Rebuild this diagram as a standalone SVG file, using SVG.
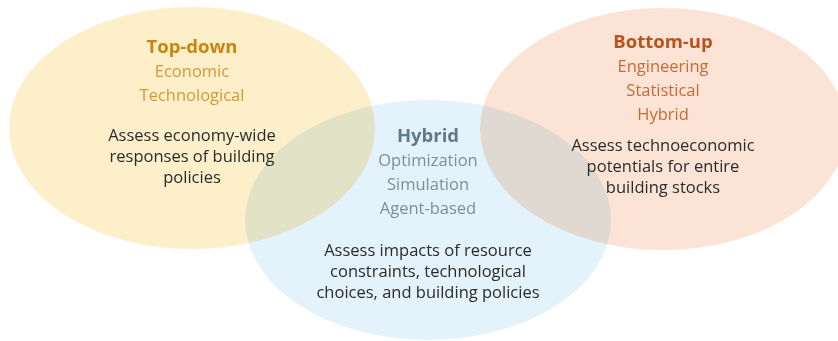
<svg xmlns="http://www.w3.org/2000/svg" width="838" height="341" viewBox="0 0 838 341">
<style>
.e{mix-blend-mode:multiply}
text{font-family:"Open Sans","Liberation Sans",sans-serif;text-anchor:middle;font-size:16.5px}
.h{font-weight:bold;font-size:18.5px}
.b{fill:#2b2b2b}
.td{fill:#c8860f}.tds{fill:#d39a35}
.bu{fill:#b9531b}.bus{fill:#c86a33}
.hy{fill:#5f788b}.hys{fill:#7a8e9c}
</style>
<rect width="838" height="341" fill="#ffffff"/>
<g style="isolation:isolate">
<g id="top-down-shape"><ellipse class="e" cx="192" cy="128" rx="183" ry="121" fill="#fdefc9"/></g>
<g id="bottom-up-shape"><ellipse class="e" cx="663" cy="129" rx="183" ry="121" fill="#fbe4d5"/></g>
<g id="hybrid-shape"><ellipse class="e" cx="428" cy="220" rx="183" ry="120" fill="#e4f3fb"/></g>
</g>
<g id="top-down">
<text class="h td" x="192" y="53">Top-down</text>
<text class="tds" x="192" y="77">Economic</text>
<text class="tds" x="192" y="101">Technological</text>
<text class="b" x="192" y="141">Assess economy-wide</text>
<text class="b" x="192" y="162">responses of building</text>
<text class="b" x="192" y="183">policies</text>
</g>
<g id="bottom-up">
<text class="h bu" x="663" y="48">Bottom-up</text>
<text class="bus" x="663" y="72">Engineering</text>
<text class="bus" x="663" y="96">Statistical</text>
<text class="bus" x="663" y="120">Hybrid</text>
<text class="b" x="663" y="151">Assess technoeconomic</text>
<text class="b" x="663" y="172">potentials for entire</text>
<text class="b" x="663" y="193">building stocks</text>
</g>
<g id="hybrid">
<text class="h hy" x="428" y="142">Hybrid</text>
<text class="hys" x="428" y="166">Optimization</text>
<text class="hys" x="428" y="190">Simulation</text>
<text class="hys" x="428" y="214">Agent-based</text>
<text class="b" x="428" y="256">Assess impacts of resource</text>
<text class="b" x="428" y="277">constraints, technological</text>
<text class="b" x="428" y="298">choices, and building policies</text>
</g>
<g id="connectors"/>
</svg>
